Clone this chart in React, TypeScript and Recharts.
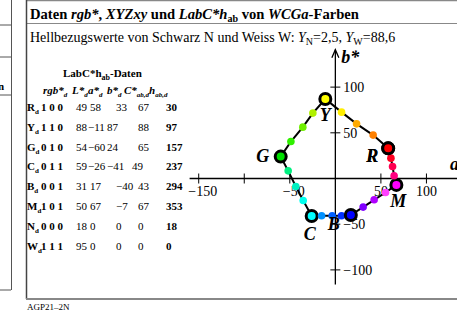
import React from 'react';
import { ScatterChart, Scatter, XAxis, YAxis, ReferenceLine } from 'recharts';

// ---- data ----
const pathA = [58, 41.5, 23.3, 6.8, -11, -24.7, -35.7, -48.8, -60, -51.8, -43.4, -35.3, -26, -15.1, -3.5, 6.8, 17, 30.5, 42.6, 55.1, 67, 64.5, 62.8, 61, 58];
const pathB = [33, 47.5, 59.8, 72.6, 87, 71.6, 56.2, 40.5, 24, 8.4, -8.8, -24, -41, -40.8, -40.8, -40.8, -40, -31.3, -23.3, -15.3, -7, 3, 13.1, 22.3, 33];
const pathNames = ['R', '', '', '', 'Y', '', '', '', 'G', '', '', '', 'C', '', '', '', 'B', '', '', '', 'M', '', '', '', 'R'];
const pathColors = [
  '#ff0000', '#ff8000', '#ffaa00', '#ffee00',
  '#ffff00', '#b0f000', '#70f000', '#30f000',
  '#00e000', '#00f080', '#00f0c0', '#00ffee',
  '#00ffff', '#0090ff', '#0060ff', '#0030ff',
  '#0000ff', '#8000ff', '#b000ff', '#ff40ff',
  '#ff00ff', '#ff0080', '#ff0050', '#ff0020',
  '#ff0000',
];

const aTicks = [-150, -100, -50, 50, 100];
const aTickLabels = ['−150', '', '−50', '50', '100'];
const bTicks = [100, 50, -50, -100];
const bTickLabels = ['100', '50', '−50', '−100'];

const rowNames = ['R', 'Y', 'G', 'C', 'B', 'M', 'N', 'W'];
const rgbCodes = ['1 0 0', '1 1 0', '0 1 0', '0 1 1', '0 0 1', '1 0 1', '0 0 0', '1 1 1'];
const Lvals = [49, 88, 54, 59, 31, 50, 18, 95];
const aVals = [58, -11, -60, -26, 17, 67, 0, 0];
const bVals = [33, 87, 24, -41, -40, -7, 0, 0];
const Cvals = [67, 88, 65, 49, 43, 67, 0, 0];
const hVals = [30, 97, 157, 237, 294, 353, 18, 0];

// ---- layout / style ----
const W = 457;
const H = 313;
const SERIF = '"Liberation Serif", "Times New Roman", serif';
const labelOffsets: Record<string, [number, number]> = {
  R: [-16, 14],
  Y: [0, 22],
  G: [-18, 5],
  C: [-2, 24],
  B: [-17, 15],
  M: [2, 22],
};

const pathData = pathA.map((a, i) => ({ a, b: pathB[i], name: pathNames[i], color: pathColors[i] }));
const aTickData = aTicks.map((t, i) => ({ a: t, b: 0, label: aTickLabels[i] }));
const bTickData = bTicks.map((t, i) => ({ a: 0, b: t, label: bTickLabels[i] }));
const arrowData = [{ a: 0, b: 141 }];

const fmt = (v: number) => (v < 0 ? '−' + Math.abs(v) : String(v));

type Seg = { t: string; sub?: boolean; it?: boolean };

const Rich = ({ x, y, segs, size, subSize, shift, bold, italic }: any) => {
  let prev = 0;
  return (
    <text x={x} y={y} fontFamily={SERIF} fontSize={size} fontWeight={bold ? 'bold' : 'normal'} fontStyle={italic ? 'italic' : 'normal'} fill="#000">
      {(segs as Seg[]).map((s, i) => {
        const cur = s.sub ? shift : 0;
        const dy = cur - prev;
        prev = cur;
        return (
          <tspan key={i} dy={dy} fontSize={s.sub ? subSize : size} fontStyle={s.it ? 'italic' : undefined}>
            {s.t}
          </tspan>
        );
      })}
    </text>
  );
};

const PathDot = (props: any) => {
  const { cx, cy, payload } = props;
  if (cx == null || cy == null) return null;
  if (payload.name) {
    const off = labelOffsets[payload.name];
    return (
      <g>
        <circle cx={cx} cy={cy} r={5.5} fill={payload.color} stroke="#000" strokeWidth={3} />
        <text x={cx + off[0]} y={cy + off[1]} textAnchor="middle" fontFamily={SERIF} fontSize={18} fontWeight="bold" fontStyle="italic" fill="#000">
          {payload.name}
        </text>
      </g>
    );
  }
  return <circle cx={cx} cy={cy} r={3.8} fill={payload.color} />;
};

const ATick = (props: any) => {
  const { cx, cy, payload } = props;
  const neg = payload.a < 0;
  return (
    <g>
      <line x1={cx} y1={cy - 5} x2={cx} y2={cy + 5} stroke="#000" strokeWidth={1} />
      {payload.label ? (
        <text x={cx + (neg ? 4 : 0)} y={cy + 17} textAnchor="middle" fontFamily={SERIF} fontSize={14} fill="#000">
          {payload.label}
        </text>
      ) : null}
    </g>
  );
};

const BTick = (props: any) => {
  const { cx, cy, payload } = props;
  return (
    <g>
      <line x1={cx - 5} y1={cy} x2={cx + 5} y2={cy} stroke="#000" strokeWidth={1} />
      <text x={cx + 8} y={cy + 5} textAnchor="start" fontFamily={SERIF} fontSize={14} fill="#000">
        {payload.label}
      </text>
    </g>
  );
};

const Arrow = (props: any) => {
  const { cx, cy } = props;
  return (
    <g>
      <polyline points={`${cx - 3.5},${cy + 8} ${cx},${cy} ${cx + 3.5},${cy + 8}`} fill="none" stroke="#000" strokeWidth={1.3} />
      <text x={cx + 6} y={cy + 13} fontFamily={SERIF} fontSize={18} fontWeight="bold" fontStyle="italic" fill="#000">b*</text>
    </g>
  );
};

const Table = () => {
  const y0 = 111;
  const dy = 19.8;
  const hdr = (x: number, main: string, sub: string) => (
    <Rich x={x} y={94} size={11} subSize={7} shift={3} bold italic segs={[{ t: main }, { t: sub, sub: true }]} />
  );
  return (
    <g>
      <Rich x={63} y={77} size={11} subSize={8} shift={3} bold segs={[{ t: 'LabC*h' }, { t: 'ab', sub: true }, { t: '-Daten' }]} />
      {hdr(43, 'rgb*', 'd')}
      {hdr(72, 'L*', 'd')}
      {hdr(88, 'a*', 'd')}
      {hdr(107, 'b*', 'd')}
      {hdr(124, 'C*', 'ab,d')}
      {hdr(149, 'h', 'ab,d')}
      {rowNames.map((n, i) => {
        const y = y0 + i * dy;
        const aNeg = aVals[i] < 0;
        const bNeg = bVals[i] < 0;
        const ax = aNeg ? 88 : 90;
        const bx = aNeg ? 107 : 116;
        const cxp = aNeg && bNeg ? 132 : 138;
        return (
          <g key={n} fontFamily={SERIF} fontSize={11} fill="#000">
            <Rich x={27} y={y} size={11} subSize={7} shift={3} bold segs={[{ t: n }, { t: 'd', sub: true }]} />
            <text x={41} y={y} fontWeight="bold">{rgbCodes[i]}</text>
            <text x={76} y={y}>{fmt(Lvals[i])}</text>
            <text x={ax} y={y}>{fmt(aVals[i])}</text>
            <text x={bx} y={y}>{fmt(bVals[i])}</text>
            <text x={cxp} y={y}>{fmt(Cvals[i])}</text>
            <text x={166} y={y} fontWeight="bold">{fmt(hVals[i])}</text>
          </g>
        );
      })}
    </g>
  );
};

const Frame = () => (
  <svg width={W} height={H} style={{ position: 'absolute', left: 0, top: 0 }}>
    {/* left partial panel */}
    <line x1={0} y1={25} x2={11} y2={25} stroke="#555" strokeWidth={1} />
    <line x1={0} y1={57} x2={11} y2={57} stroke="#555" strokeWidth={1} />
    <line x1={0} y1={95} x2={11} y2={95} stroke="#555" strokeWidth={1} />
    <line x1={0} y1={290} x2={11} y2={290} stroke="#555" strokeWidth={1} />
    <line x1={11.5} y1={0} x2={11.5} y2={290} stroke="#555" strokeWidth={1} />
    <text x={-2} y={90} fontFamily={SERIF} fontSize={11} fontWeight="bold">n</text>
    {/* main panel */}
    <line x1={26} y1={0.5} x2={W} y2={0.5} stroke="#888" strokeWidth={1.5} />
    <line x1={26} y1={23.5} x2={W} y2={23.5} stroke="#888" strokeWidth={1} />
    <line x1={26.5} y1={0} x2={26.5} y2={299} stroke="#444" strokeWidth={1.5} />
    <line x1={26} y1={299} x2={W} y2={299} stroke="#888" strokeWidth={2} />
    <Rich
      x={30}
      y={19}
      size={14.6}
      subSize={10}
      shift={3}
      bold
      segs={[
        { t: 'Daten ' },
        { t: 'rgb*', it: true },
        { t: ', ' },
        { t: 'XYZxy', it: true },
        { t: ' und ' },
        { t: 'LabC*h', it: true },
        { t: 'ab', sub: true },
        { t: ' von ' },
        { t: 'WCGa', it: true },
        { t: '-Farben' },
      ]}
    />
    <Rich
      x={30}
      y={42}
      size={14}
      subSize={10}
      shift={3}
      segs={[
        { t: 'Hellbezugswerte von Schwarz N und Weiss W: ' },
        { t: 'Y', it: true },
        { t: 'N', sub: true },
        { t: '=2,5, ' },
        { t: 'Y', it: true },
        { t: 'W', sub: true },
        { t: '=88,6' },
      ]}
    />
    <text x={27} y={310} fontFamily={SERIF} fontSize={9} fill="#000">AGP21–2N</text>
    <text x={450} y={170} fontFamily={SERIF} fontSize={18} fontWeight="bold" fontStyle="italic" fill="#000">a*</text>
    <Table />
  </svg>
);

export default function App() {
  return (
    <div style={{ position: 'absolute', left: 0, top: 0, width: W, height: H, background: '#fff', overflow: 'hidden' }}>
      <Frame />
      <div style={{ position: 'absolute', left: 0, top: 0 }}>
        <ScatterChart width={W} height={H} margin={{ top: 46, right: 0.5, bottom: 29.4, left: 180.5 }}>
          <XAxis type="number" dataKey="a" domain={[-170, 133]} allowDataOverflow hide />
          <YAxis type="number" dataKey="b" domain={[-115, 145]} allowDataOverflow hide />
          <ReferenceLine segment={[{ x: -160, y: 0 }, { x: 140, y: 0 }]} stroke="#000" strokeWidth={1.3} ifOverflow="visible" />
          <ReferenceLine segment={[{ x: 0, y: -116 }, { x: 0, y: 141 }]} stroke="#000" strokeWidth={1.3} ifOverflow="visible" />
          <Scatter data={aTickData} shape={<ATick />} isAnimationActive={false} />
          <Scatter data={bTickData} shape={<BTick />} isAnimationActive={false} />
          <Scatter data={arrowData} shape={<Arrow />} isAnimationActive={false} />
          <Scatter
            data={pathData}
            line={{ stroke: '#000', strokeWidth: 2 }}
            lineType="joint"
            shape={<PathDot />}
            isAnimationActive={false}
          />
        </ScatterChart>
      </div>
    </div>
  );
}
